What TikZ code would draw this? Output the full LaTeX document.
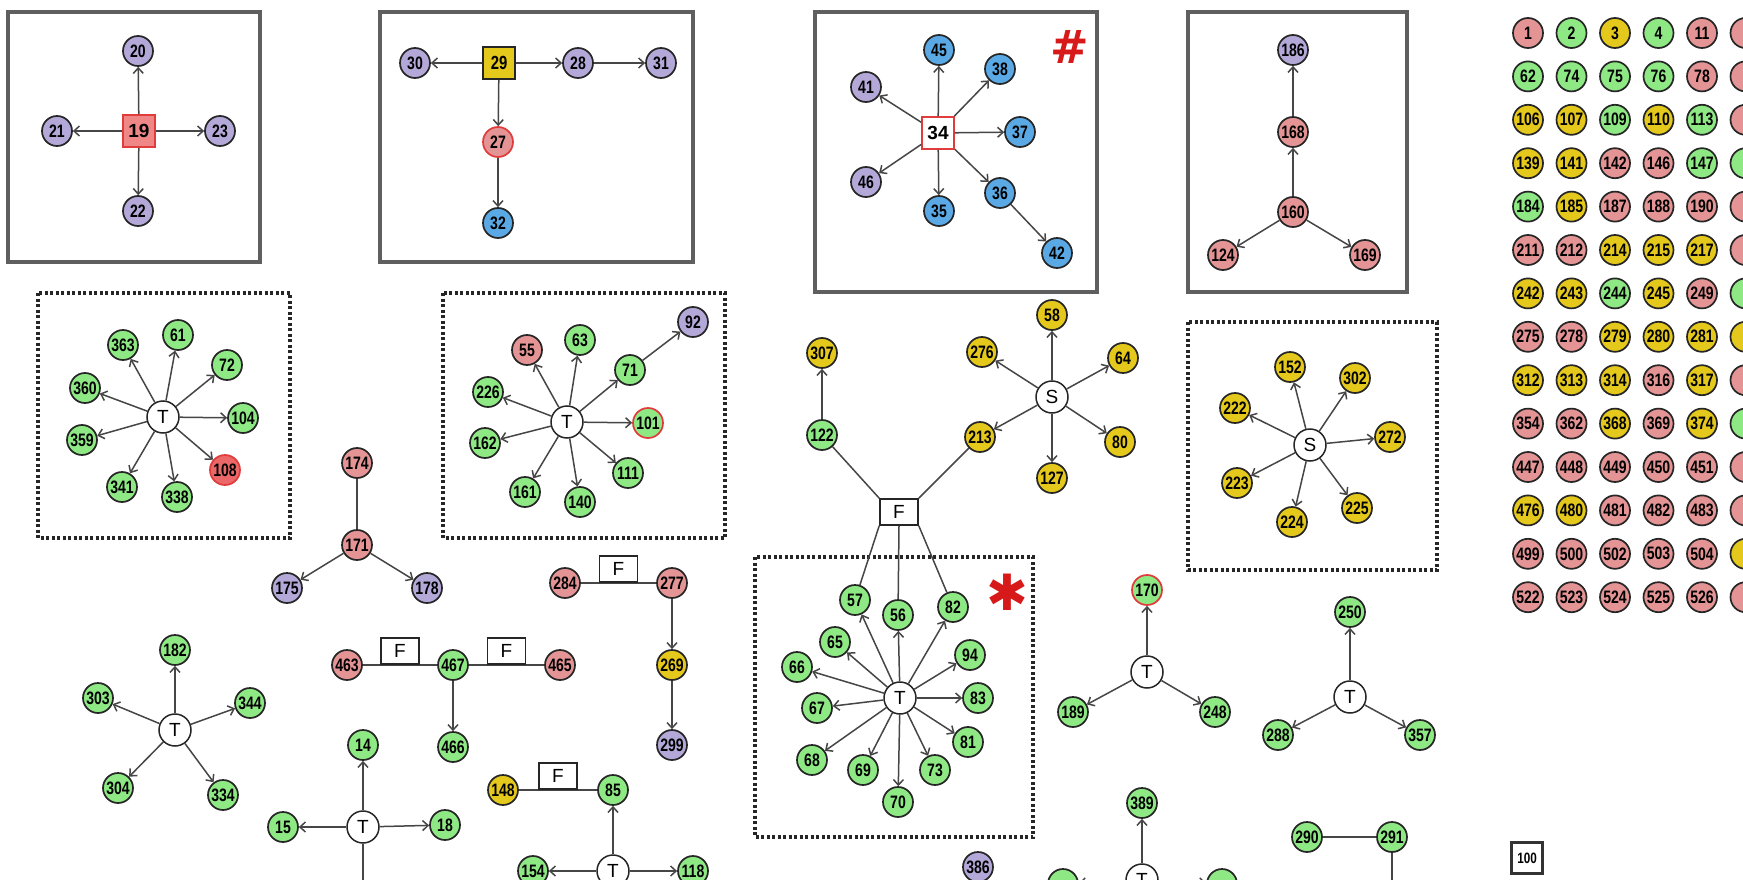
\documentclass[tikz,border=0pt]{standalone}
\usepackage{fontspec}
\setmainfont{Liberation Sans}
\newfontfamily\numf[FakeStretch=0.78]{Liberation Sans}
\newfontfamily\djv{DejaVu Sans}
\usetikzlibrary{arrows.meta,calc}
\definecolor{purp}{RGB}{180,168,216}
\definecolor{blu}{RGB}{90,168,228}
\definecolor{pnk}{RGB}{228,148,148}
\definecolor{grn}{RGB}{142,232,132}
\definecolor{yel}{RGB}{228,200,28}
\definecolor{redf}{RGB}{236,104,104}
\definecolor{redline}{RGB}{225,60,60}
\definecolor{boxpink}{RGB}{240,135,135}
\definecolor{edgec}{RGB}{70,70,70}
\definecolor{framec}{RGB}{95,95,95}
\definecolor{markred}{RGB}{215,25,25}
\tikzset{
 nd/.style={circle, draw=black!85, line width=1.7pt, minimum size=30pt, inner sep=0pt, font=\numf\bfseries\fontsize{18}{18}\selectfont},
 cP/.style={nd, fill=purp},
 cB/.style={nd, fill=blu},
 cK/.style={nd, fill=pnk},
 cG/.style={nd, fill=grn},
 cY/.style={nd, fill=yel},
 cR/.style={nd, fill=redf},
 rb/.style={draw=redline},
 hub/.style={circle, draw=black!85, line width=1.5pt, fill=white, minimum size=32pt, inner sep=0pt, font=\fontsize{19}{19}\selectfont},
 sq/.style={rectangle, line width=1.7pt, minimum size=32pt, inner sep=0pt, font=\bfseries\fontsize{19}{19}\selectfont},
 arr/.style={draw=edgec, line width=1.5pt, -{Straight Barb[length=5.5pt,width=10pt]}},
 ln/.style={draw=edgec, line width=1.5pt},
 frame/.style={draw=framec, line width=3.8pt},
 dotframe/.style={draw=black!85, line width=3.5pt, dash pattern=on 3pt off 2.5pt},
 fbox/.style={rectangle, draw=black!85, line width=1.6pt, fill=white, minimum width=38pt, minimum height=26pt, inner sep=0pt, font=\fontsize{19}{19}\selectfont},
}
\begin{document}
\begin{tikzpicture}[x=1pt,y=-1pt]
\useasboundingbox (0,0) rectangle (1743,880);
\fill[white] (0,0) rectangle (1743,880);
\clip (0,0) rectangle (1743,880);

% ---------- solid frames ----------
\draw[frame] (8,12) rectangle (260,262);
\draw[frame] (380,12) rectangle (693,262);
\draw[frame] (815,12) rectangle (1097,292);
\draw[frame] (1188,12) rectangle (1407,292);
% ---------- dotted frames ----------
\draw[dotframe] (38,293) rectangle (290,538);
\draw[dotframe] (443,293) rectangle (725,538);
\draw[dotframe] (755,557) rectangle (1033,837);
\draw[dotframe] (1188,322) rectangle (1437,570);

% ---------- box 1 ----------
\node[sq, fill=boxpink, draw=redline] (sq19) at (139,131) {19};
\node[cP] (n20) at (138,51) {20};
\node[cP] (n21) at (57,131) {21};
\node[cP] (n23) at (220,131) {23};
\node[cP] (n22) at (138,211) {22};
\foreach \t in {n20,n21,n22,n23} \draw[arr] (sq19) -- (\t);

% ---------- box 2 ----------
\node[sq, fill=yel, draw=black!85] (sq29) at (499,63) {\numf 29};
\node[cP] (n30) at (415,63) {30};
\node[cP] (n28) at (578,63) {28};
\node[cP] (n31) at (661,63) {31};
\node[cK, rb] (n27) at (498,142) {27};
\node[cB] (n32) at (498,223) {32};
\draw[arr] (sq29) -- (n30);
\draw[arr] (sq29) -- (n28);
\draw[arr] (n28) -- (n31);
\draw[arr] (sq29) -- (n27);
\draw[arr] (n27) -- (n32);

% ---------- box 3 ----------
\node[sq, fill=white, draw=redline] (sq34) at (938,133) {34};
\node[cB] (n45) at (939,50) {45};
\node[cB] (n38) at (1000,69) {38};
\node[cB] (n37) at (1020,132) {37};
\node[cB] (n36) at (1000,193) {36};
\node[cB] (n42) at (1057,253) {42};
\node[cB] (n35) at (939,211) {35};
\node[cP] (n41) at (866,87) {41};
\node[cP] (n46) at (866,182) {46};
\foreach \t in {n45,n38,n37,n36,n35,n41,n46} \draw[arr] (sq34) -- (\t);
\draw[arr] (n36) -- (n42);
\node[text=markred, font=\djv\bfseries\fontsize{46}{46}\selectfont] (hash) at (1070,47) {\#};

% ---------- box 4 ----------
\node[cP] (n186) at (1293,50) {186};
\node[cK] (n168) at (1293,132) {168};
\node[cK] (n160) at (1293,212) {160};
\node[cK] (n124) at (1223,255) {124};
\node[cK] (n169) at (1365,255) {169};
\draw[arr] (n168) -- (n186);
\draw[arr] (n160) -- (n168);
\draw[arr] (n160) -- (n124);
\draw[arr] (n160) -- (n169);

% ---------- dotted box A ----------
\node[hub] (hA) at (163,417) {T};
\node[cG] (n61) at (178,335) {61};
\node[cG] (n363) at (123,345) {363};
\node[cG] (n72) at (227,365) {72};
\node[cG] (n360) at (85,388) {360};
\node[cG] (n104) at (243,418) {104};
\node[cG] (n359) at (82,440) {359};
\node[cR, rb] (n108) at (225,470) {108};
\node[cG] (n341) at (122,487) {341};
\node[cG] (n338) at (177,497) {338};
\foreach \t in {n61,n363,n72,n360,n104,n359,n108,n341,n338} \draw[arr] (hA) -- (\t);

% ---------- 171 group ----------
\node[cK] (n174) at (357,463) {174};
\node[cK] (n171) at (357,545) {171};
\node[cP] (n175) at (287,588) {175};
\node[cP] (n178) at (427,588) {178};
\draw[ln] (n174) -- (n171);
\draw[arr] (n171) -- (n175);
\draw[arr] (n171) -- (n178);

% ---------- dotted box B ----------
\node[hub] (hB) at (567,422) {T};
\node[cK] (n55) at (527,350) {55};
\node[cG] (n63) at (580,340) {63};
\node[cG] (n71) at (630,370) {71};
\node[cP] (n92) at (693,322) {92};
\node[cG] (n226) at (488,392) {226};
\node[cG, rb] (n101) at (648,423) {101};
\node[cG] (n162) at (485,443) {162};
\node[cG] (n111) at (628,473) {111};
\node[cG] (n161) at (525,492) {161};
\node[cG] (n140) at (580,502) {140};
\foreach \t in {n55,n63,n71,n226,n101,n162,n111,n161,n140} \draw[arr] (hB) -- (\t);
\draw[arr] (n71) -- (n92);

% ---------- 307 / 122 ----------
\node[cY] (n307) at (822,353) {307};
\node[cG] (n122) at (822,435) {122};
\draw[arr] (n122) -- (n307);

% ---------- S star (top) ----------
\node[hub] (hS1) at (1052,397) {S};
\node[cY] (n58) at (1052,315) {58};
\node[cY] (n276) at (982,352) {276};
\node[cY] (n64) at (1123,358) {64};
\node[cY] (n213) at (980,437) {213};
\node[cY] (n80) at (1120,442) {80};
\node[cY] (n127) at (1052,478) {127};
\foreach \t in {n58,n276,n64,n213,n80,n127} \draw[arr] (hS1) -- (\t);

% ---------- big F and star box C ----------
\node[fbox] (F1) at (899,512) {F};
\node[hub] (hC) at (900,698) {T};
\node[cG] (n57) at (855,600) {57};
\node[cG] (n56) at (898,615) {56};
\node[cG] (n82) at (953,607) {82};
\node[cG] (n65) at (835,642) {65};
\node[cG] (n94) at (970,655) {94};
\node[cG] (n66) at (797,667) {66};
\node[cG] (n83) at (978,698) {83};
\node[cG] (n67) at (817,708) {67};
\node[cG] (n81) at (968,742) {81};
\node[cG] (n68) at (812,760) {68};
\node[cG] (n69) at (863,770) {69};
\node[cG] (n73) at (935,770) {73};
\node[cG] (n70) at (898,802) {70};
\foreach \t in {n57,n56,n82,n65,n94,n66,n83,n67,n81,n68,n69,n73,n70} \draw[arr] (hC) -- (\t);
\draw[ln] (F1.north west) -- (n122);
\draw[ln] (F1.north east) -- (n213);
\draw[ln] (F1.south west) -- (n57);
\draw[ln] (F1.south) -- (n56);
\draw[ln] (F1.south east) -- (n82);
\node[text=markred, font=\djv\fontsize{50}{50}\selectfont] (star) at (1007,592) {✱};

% ---------- S star box D ----------
\node[hub] (hS2) at (1310,445) {S};
\node[cY] (n152) at (1290,367) {152};
\node[cY] (n302) at (1355,378) {302};
\node[cY] (n222) at (1235,408) {222};
\node[cY] (n272) at (1390,437) {272};
\node[cY] (n223) at (1237,483) {223};
\node[cY] (n224) at (1292,522) {224};
\node[cY] (n225) at (1357,508) {225};
\foreach \t in {n152,n302,n222,n272,n223,n224,n225} \draw[arr] (hS2) -- (\t);

% ---------- 170 group ----------
\node[hub] (hD) at (1147,672) {T};
\node[cG, rb] (n170) at (1147,590) {170};
\node[cG] (n189) at (1073,712) {189};
\node[cG] (n248) at (1215,712) {248};
\foreach \t in {n170,n189,n248} \draw[arr] (hD) -- (\t);

% ---------- 250 group ----------
\node[hub] (hE) at (1350,697) {T};
\node[cG] (n250) at (1350,612) {250};
\node[cG] (n288) at (1278,735) {288};
\node[cG] (n357) at (1420,735) {357};
\foreach \t in {n250,n288,n357} \draw[arr] (hE) -- (\t);

% ---------- 290 / 291 ----------
\node[cG] (n290) at (1307,837) {290};
\node[cG] (n291) at (1392,837) {291};
\coordinate (d291) at (1392,905);
\draw[ln] (n290) -- (n291);
\draw[ln] (n291) -- (d291);

% ---------- bottom-left T ----------
\node[hub] (hF) at (175,730) {T};
\node[cG] (n182) at (175,650) {182};
\node[cG] (n303) at (98,698) {303};
\node[cG] (n344) at (250,703) {344};
\node[cG] (n304) at (118,788) {304};
\node[cG] (n334) at (223,795) {334};
\foreach \t in {n182,n303,n344,n304,n334} \draw[arr] (hF) -- (\t);

% ---------- F chain 463-467-465 ----------
\node[cK] (n463) at (347,665) {463};
\node[cG] (n467) at (453,665) {467};
\node[cK] (n465) at (560,665) {465};
\node[cG] (n466) at (453,747) {466};
\draw[ln] (n463) -- (n467);
\draw[ln] (n467) -- (n465);
\draw[arr] (n467) -- (n466);
\node[fbox, anchor=south] (Fa) at ($(n463)!0.5!(n467)$) {F};
\node[fbox, anchor=south] (Fb) at ($(n467)!0.5!(n465)$) {F};

% ---------- 284-277-269-299 ----------
\node[cK] (n284) at (565,583) {284};
\node[cK] (n277) at (672,583) {277};
\node[cY] (n269) at (672,665) {269};
\node[cP] (n299) at (672,745) {299};
\draw[ln] (n284) -- (n277);
\node[fbox, anchor=south] (Fc) at ($(n284)!0.5!(n277)$) {F};
\draw[arr] (n277) -- (n269);
\draw[arr] (n269) -- (n299);

% ---------- 148-85 and T ----------
\node[cY] (n148) at (503,790) {148};
\node[cG] (n85) at (613,790) {85};
\draw[ln] (n148) -- (n85);
\node[fbox, anchor=south] (Fd) at ($(n148)!0.5!(n85)$) {F};
\node[hub] (hG) at (613,871) {T};
\node[cG] (n154) at (533,871) {154};
\node[cG] (n118) at (693,871) {118};
\foreach \t in {n85,n154,n118} \draw[arr] (hG) -- (\t);

% ---------- 14/15/18 T ----------
\node[hub] (hH) at (363,827) {T};
\node[cG] (n14) at (363,745) {14};
\node[cG] (n15) at (283,827) {15};
\node[cG] (n18) at (445,825) {18};
\coordinate (d8) at (363,910);
\foreach \t in {n14,n15,n18,d8} \draw[arr] (hH) -- (\t);

% ---------- 386 ----------
\node[cP] (n386) at (978,867) {386};

% ---------- 389 T (cut) ----------
\node[hub] (hI) at (1142,880) {T};
\node[cG] (n389) at (1142,803) {389};
\node[cG] (nbl) at (1063,884) {};
\node[cG] (nbr) at (1222,884) {};
\foreach \t in {n389,nbl,nbr} \draw[arr] (hI) -- (\t);

% ---------- legend grid ----------
\foreach \items [count=\i from 0] in {
 {1/cK,2/cG,3/cY,4/cG,11/cK,{}/cK},
 {62/cG,74/cG,75/cG,76/cG,78/cK,{}/cK},
 {106/cY,107/cY,109/cG,110/cY,113/cG,{}/cK},
 {139/cY,141/cY,142/cK,146/cK,147/cG,{}/cG},
 {184/cG,185/cY,187/cK,188/cK,190/cK,{}/cK},
 {211/cK,212/cK,214/cY,215/cY,217/cY,{}/cK},
 {242/cY,243/cY,244/cG,245/cY,249/cK,{}/cG},
 {275/cK,278/cK,279/cY,280/cY,281/cY,{}/cY},
 {312/cY,313/cY,314/cY,316/cK,317/cY,{}/cK},
 {354/cK,362/cK,368/cY,369/cK,374/cY,{}/cG},
 {447/cK,448/cK,449/cK,450/cK,451/cK,{}/cK},
 {476/cY,480/cY,481/cK,482/cK,483/cK,{}/cK},
 {499/cK,500/cK,502/cK,503/cK,504/cK,{}/cY},
 {522/cK,523/cK,524/cK,525/cK,526/cK,{}/cK}}
{
 \foreach \lab/\cc [count=\j from 0] in \items {
  \node[\cc] (g-\i-\j) at ({1528+43.5*\j},{33+43.4*\i}) {\lab};
 }
}

% ---------- 100 box ----------
\node[rectangle, draw=black!80, line width=2.4pt, minimum size=31pt, inner sep=0pt, font=\numf\bfseries\fontsize{15}{15}\selectfont] (n100) at (1527,858) {100};
\end{tikzpicture}
\end{document}
